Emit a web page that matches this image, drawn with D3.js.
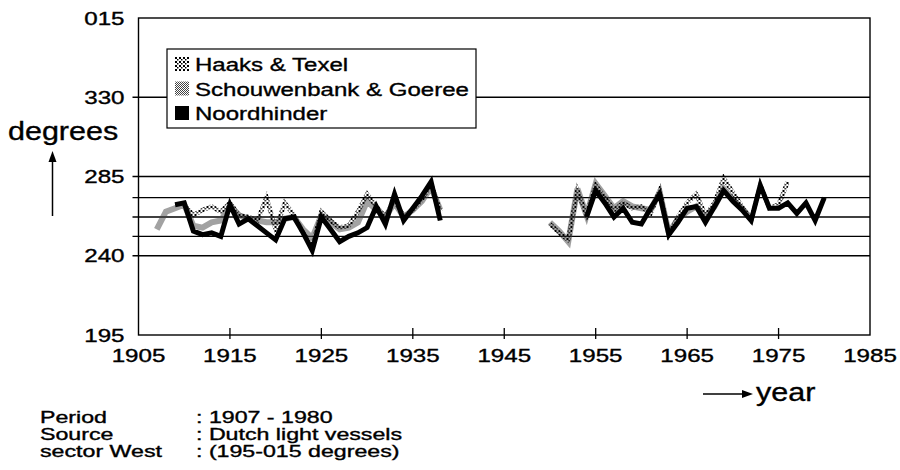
<!DOCTYPE html>
<html>
<head>
<meta charset="utf-8">
<script src="https://cdn.jsdelivr.net/npm/d3@7"></script>
<style>
  body { margin: 0; background: #fff; }
  svg { display: block; font-family: "Liberation Sans", Arial, Helvetica, sans-serif; }
  text { stroke: #000; stroke-width: 0.35px; }
</style>
</head>
<body>
<script>
// yearly mean wind direction, sector West, three light vessels
var yearsA = d3.range(1907, 1939);   // 1907 - 1938
var yearsB = d3.range(1950, 1981);   // 1950 - 1980

var haaksA = [null, null, null, 269, 263, 266, 268, 265, 270, 263,
  262, 260, 273, 255, 270, 263, 253, 245, 265, 260,
  256, 257, 265, 275, 268, 262, 272, 262, 266, 272,
  281, 265];
var haaksB = [258, 253, 249, 277, 263, 280, 273, 266, 270, 267,
  268, 264, 277, 252, 262, 270, 275, 263, 270, 284,
  276, 268, 260, 280, 267, 269, 282, null, null, null, null];

var schouA = [255, 265, 267, 269, 257, 256, 259, 260, 268, 263,
  261, 260, 259, 259, 261, 262, 255, 250, 263, 259,
  255, 256, 259, 271, 266, 262, 270, 262, 266, 271,
  279, 266];
var schouB = [259, 254, 248, 278, 263, 281, 274, 267, 271, 268,
  267, 266, 276, 253, 261, 265, 268, 262, 268, 278,
  272, 267, 261, null, null, null, null, null, null, null, null];

var noordA = [null, null, 269, 270, 254, 252, 253, 251, 269, 258,
  261, 257, 253, 249, 261, 262, 253, 243, 262, 255,
  248, 251, 253, 256, 268, 258, 275, 260, 267, 274,
  282, 260];
var noordB = [null, null, null, null, 262, 277, 270, 262, 267, 259,
  258, 267, 275, 252, 259, 267, 268, 259, 268, 277,
  271, 266, 260, 280, 267, 267, 270, 264, 270, 260, 273];

var seriesNames = ["Haaks & Texel", "Schouwenbank & Goeree", "Noordhinder"];

var xTicks = [1905, 1915, 1925, 1935, 1945, 1955, 1965, 1975, 1985];
var yTickVals = [375, 330, 285, 240, 195];
var yTickLabels = ["015", "330", "285", "240", "195"];
var gridVals = [330, 285, 273, 262, 251, 240];

var notes = [["Period", ": 1907 - 1980"],
  ["Source", ": Dutch light vessels"],
  ["sector West", ": (195-015 degrees)"]];

var svgWidth = 900;
var svgHeight = 470;

var margin = {
  top: 18,
  right: 30,
  bottom: 135,
  left: 138.5
};
var width = svgWidth - margin.left - margin.right;
var height = svgHeight - margin.top - margin.bottom;

var root = d3.select("body")
  .append("svg")
    .attr("width", svgWidth)
    .attr("height", svgHeight);

root.append("rect").attr("width", svgWidth).attr("height", svgHeight).attr("fill", "#fff");

// fill patterns for the two shaded lines
var defs = root.append("defs");
var pS = defs.append("pattern").attr("id", "pSchou")
  .attr("patternUnits", "userSpaceOnUse").attr("width", 2).attr("height", 2);
pS.append("rect").attr("x", 0).attr("y", 0).attr("width", 1).attr("height", 1).attr("fill", "#444");
pS.append("rect").attr("x", 1).attr("y", 1).attr("width", 1).attr("height", 1).attr("fill", "#444");
var pH = defs.append("pattern").attr("id", "pHaaks")
  .attr("patternUnits", "userSpaceOnUse").attr("width", 4).attr("height", 4);
pH.append("rect").attr("x", 0).attr("y", 0).attr("width", 2).attr("height", 2).attr("fill", "#000");
pH.append("rect").attr("x", 2).attr("y", 2).attr("width", 1.5).attr("height", 1.5).attr("fill", "#000");

// stretched text, like the old plotter font
function label(sel, x, y, str, size, sx, anchor) {
  return sel.append("text")
    .attr("transform", "translate(" + x + "," + y + ") scale(" + sx + ",1)")
    .attr("text-anchor", anchor || "start")
    .style("font-size", size + "px")
    .attr("fill", "#000")
    .text(str);
}

var svg = root.append("g")
  .attr("transform", "translate(" + margin.left + "," + margin.top + ")");

var x = d3.scaleLinear().domain([1905, 1985]).range([0, width]);
var y = d3.scaleLinear().domain([195, 375]).range([height, 0]);

// grid lines with short outward ticks
svg.append("g")
  .selectAll("line")
  .data(gridVals)
  .enter()
  .append("line")
    .attr("x1", -6)
    .attr("x2", width)
    .attr("y1", d => y(d))
    .attr("y2", d => y(d))
    .attr("stroke", "#000")
    .attr("stroke-width", 1.3);

// frame
svg.append("rect")
  .attr("width", width)
  .attr("height", height)
  .attr("fill", "none")
  .attr("stroke", "#000")
  .attr("stroke-width", 1.4);

// x ticks crossing the bottom axis
svg.append("g")
  .selectAll("line")
  .data(xTicks.slice(1, -1))
  .enter()
  .append("line")
    .attr("x1", d => x(d))
    .attr("x2", d => x(d))
    .attr("y1", height - 7)
    .attr("y2", height + 4)
    .attr("stroke", "#000")
    .attr("stroke-width", 1.3);

xTicks.forEach(function(t) {
  label(svg, x(t), height + 27, String(t), 17.5, 1.38, "middle");
});

yTickVals.forEach(function(v, i) {
  label(svg, -14, y(v) + 6.5, yTickLabels[i], 17.5, 1.38, "end");
});

// series
function points(ya, va, yb, vb) {
  var a = ya.map(function(yr, i) { return {year: yr, v: va[i]}; });
  var b = yb.map(function(yr, i) { return {year: yr, v: vb[i]}; });
  return a.concat([{year: 1944, v: null}]).concat(b);
}

var line = d3.line()
  .defined(d => d.v != null)
  .x(d => x(d.year))
  .y(d => y(d.v));

svg.append("path")
  .datum(points(yearsA, schouA, yearsB, schouB))
  .attr("d", line)
  .attr("fill", "none")
  .attr("stroke", "url(#pSchou)")
  .attr("stroke-width", 6);

svg.append("path")
  .datum(points(yearsA, haaksA, yearsB, haaksB))
  .attr("d", line)
  .attr("fill", "none")
  .attr("stroke", "url(#pHaaks)")
  .attr("stroke-width", 4.5);

svg.append("path")
  .datum(points(yearsA, noordA, yearsB, noordB))
  .attr("d", line)
  .attr("fill", "none")
  .attr("stroke", "#000")
  .attr("stroke-width", 5);

// legend
var legend = root.append("g").attr("transform", "translate(167,49)");
legend.append("rect")
  .attr("width", 309)
  .attr("height", 79)
  .attr("fill", "#fff")
  .attr("stroke", "#000")
  .attr("stroke-width", 1.2);

var swatchFill = ["url(#pHaaks)", "url(#pSchou)", "#000"];
seriesNames.forEach(function(name, i) {
  legend.append("rect")
    .attr("x", 8)
    .attr("y", 8 + i * 24.5)
    .attr("width", 14)
    .attr("height", 14)
    .attr("fill", swatchFill[i]);
  label(legend, 28, 22 + i * 24.5, name, 18.5, 1.3, "start");
});

// axis titles
label(root, 8, 140, "degrees", 25, 1.22, "start");
root.append("line")
  .attr("x1", 52.5).attr("x2", 52.5)
  .attr("y1", 216).attr("y2", 160)
  .attr("stroke", "#000").attr("stroke-width", 1.5);
root.append("path")
  .attr("d", "M52.5,151 L48.5,162 L56.5,162 Z")
  .attr("fill", "#000");

label(root, 756, 401, "year", 25, 1.22, "start");
root.append("line")
  .attr("x1", 703).attr("x2", 744)
  .attr("y1", 394).attr("y2", 394)
  .attr("stroke", "#000").attr("stroke-width", 1.5);
root.append("path")
  .attr("d", "M753,394 L742,390 L742,398 Z")
  .attr("fill", "#000");

// notes below the chart
notes.forEach(function(n, i) {
  label(root, 40, 423 + i * 17, n[0], 16, 1.45, "start");
  label(root, 196, 423 + i * 17, n[1], 16, 1.45, "start");
});
</script>
</body>
</html>
